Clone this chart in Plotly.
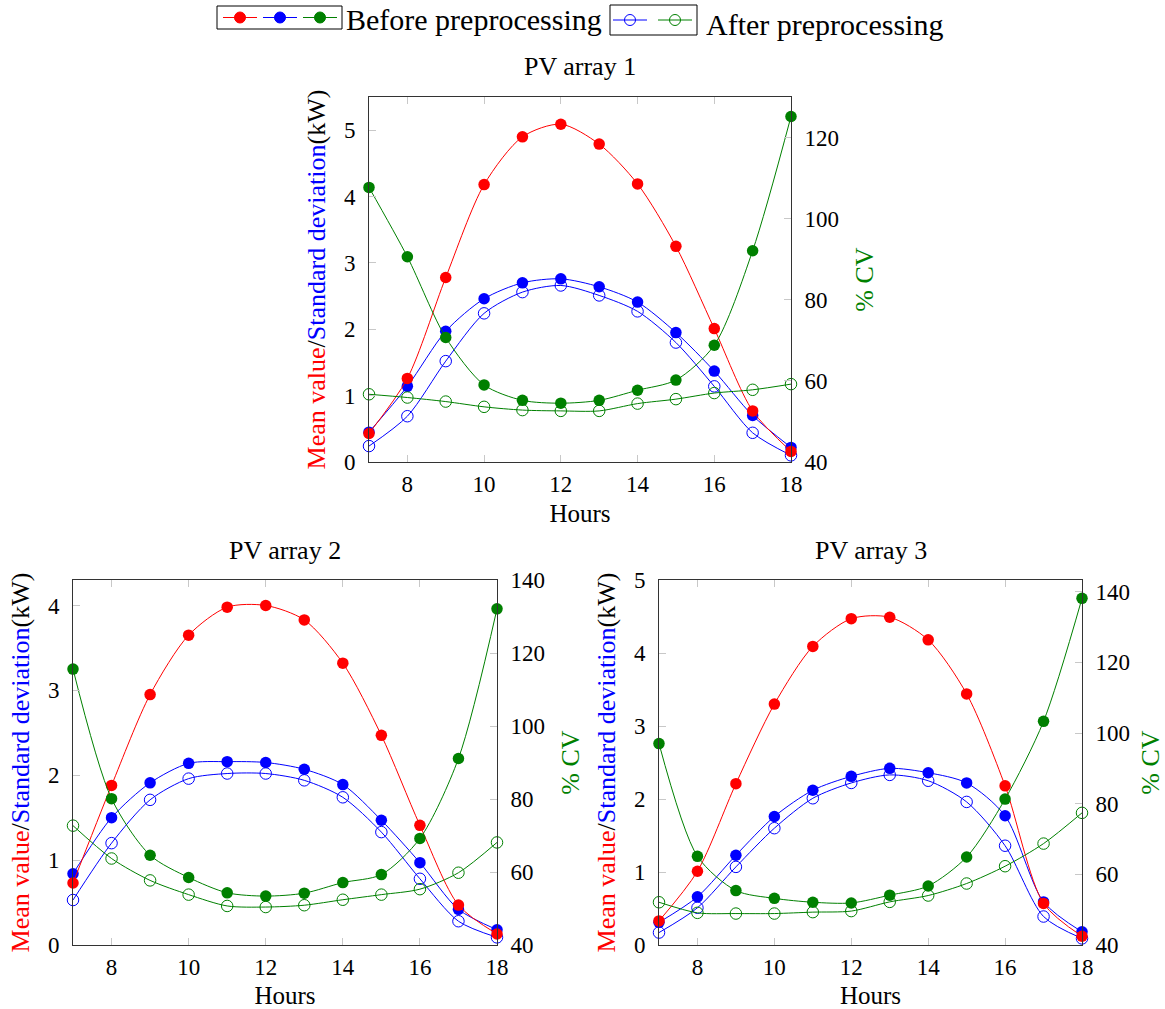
import plotly.graph_objects as go

# ---------------- data ----------------
hours = [7, 8, 9, 10, 11, 12, 13, 14, 15, 16, 17, 18]
x_ticks = [8, 10, 12, 14, 16, 18]

pv1_mean_before = [0.43, 1.26, 2.78, 4.18, 4.90, 5.09, 4.79, 4.19, 3.25, 2.01, 0.77, 0.16]
pv1_std_before = [0.45, 1.14, 1.97, 2.46, 2.70, 2.76, 2.64, 2.41, 1.95, 1.37, 0.70, 0.22]
pv1_std_after = [0.24, 0.69, 1.52, 2.24, 2.56, 2.66, 2.51, 2.27, 1.80, 1.14, 0.44, 0.10]
pv1_cv_before = [107.7, 90.6, 70.7, 59.0, 55.2, 54.5, 55.2, 57.7, 60.2, 68.8, 92.1, 125.2]
pv1_cv_after = [56.7, 55.9, 54.9, 53.6, 52.8, 52.6, 52.6, 54.4, 55.5, 57.0, 57.8, 59.2]

pv2_mean_before = [0.73, 1.88, 2.95, 3.65, 3.98, 4.00, 3.83, 3.32, 2.47, 1.41, 0.47, 0.13]
pv2_std_before = [0.84, 1.50, 1.91, 2.14, 2.16, 2.15, 2.07, 1.89, 1.47, 0.97, 0.42, 0.18]
pv2_std_after = [0.53, 1.20, 1.71, 1.96, 2.02, 2.02, 1.94, 1.74, 1.33, 0.78, 0.28, 0.09]
pv2_cv_before = [115.6, 80.1, 64.6, 58.5, 54.3, 53.4, 54.2, 57.1, 59.3, 69.2, 91.1, 132.1]
pv2_cv_after = [72.7, 63.7, 57.7, 53.8, 50.7, 50.4, 50.9, 52.4, 53.8, 55.3, 59.8, 68.1]

pv3_mean_before = [0.33, 1.01, 2.21, 3.30, 4.09, 4.47, 4.49, 4.18, 3.44, 2.18, 0.57, 0.12]
pv3_std_before = [0.31, 0.66, 1.23, 1.76, 2.12, 2.31, 2.42, 2.36, 2.22, 1.77, 0.59, 0.18]
pv3_std_after = [0.17, 0.51, 1.07, 1.60, 2.01, 2.22, 2.33, 2.25, 1.96, 1.36, 0.39, 0.09]
pv3_cv_before = [97.0, 65.1, 55.4, 53.2, 52.1, 51.9, 54.1, 56.7, 64.9, 81.3, 103.3, 138.1]
pv3_cv_after = [52.1, 49.1, 48.9, 48.9, 49.3, 49.6, 52.2, 54.0, 57.4, 62.3, 68.7, 77.4]

titles = ["PV array 1", "PV array 2", "PV array 3"]
legend_labels = ["Before preprocessing", "After preprocessing"]
x_title = "Hours"
y_left_title = ("<span style='color:#ff0000'>Mean value</span>/"
                "<span style='color:#0000ff'>Standard deviation</span>(kW)")
y_right_title = "% CV"

# ---------------- style ----------------
W, H = 1165, 1009
FONT = "Liberation Serif"
RED, BLUE, GREEN = "#ff0000", "#0000ff", "#008000"
FRAME = "#333333"
TICKC = "#c8c8c8"


def px(x):
    return x / W


def py(y):
    return 1 - y / H


panels = [
    dict(box=(369, 791, 97, 462), yl=[0, 5.5], yr=[40, 130],
         data=(pv1_mean_before, pv1_std_before, pv1_std_after, pv1_cv_before, pv1_cv_after)),
    dict(box=(73, 497, 580, 945), yl=[0, 4.3], yr=[40, 140],
         data=(pv2_mean_before, pv2_std_before, pv2_std_after, pv2_cv_before, pv2_cv_after)),
    dict(box=(659, 1082, 580, 945), yl=[0, 5.0], yr=[40, 143.3],
         data=(pv3_mean_before, pv3_std_before, pv3_std_after, pv3_cv_before, pv3_cv_after)),
]

fig = go.Figure()
layout = dict(
    width=W, height=H,
    margin=dict(l=0, r=0, t=0, b=0, pad=0, autoexpand=False),
    paper_bgcolor="white", plot_bgcolor="white",
    font=dict(family=FONT, size=23, color="black"),
    showlegend=False,
)

SPL = 0.8
annotations = []

for i, p in enumerate(panels):
    l, r, t, b = p["box"]
    xn = "" if i == 0 else str(i + 1)
    yl_n = str(2 * i + 1) if i > 0 else ""
    yr_n = str(2 * i + 2)
    xa, yla, yra = "x" + xn, "y" + yl_n, "y" + yr_n
    mean_b, std_b, std_a, cv_b, cv_a = p["data"]

    common_axis = dict(showgrid=False, zeroline=False, showline=True, linecolor=FRAME,
                       linewidth=1, ticks="inside", ticklen=7, tickcolor=TICKC,
                       automargin=False,
                       tickfont=dict(size=23, family=FONT, color="black"))
    layout["xaxis" + xn] = dict(common_axis, domain=[px(l), px(r)], range=[7, 18],
                                tickvals=x_ticks, anchor=yla, mirror="ticks",
                                ticklabelstandoff=1,
                                title=dict(text=x_title, font=dict(size=25), standoff=8))
    layout["yaxis" + yl_n] = dict(common_axis, domain=[py(b), py(t)], range=p["yl"],
                                  dtick=1, anchor=xa, side="left", ticklabelstandoff=8,
                                  title=dict(text=y_left_title, font=dict(size=26), standoff=10))
    layout["yaxis" + yr_n] = dict(common_axis, domain=[py(b), py(t)], range=p["yr"],
                                  dtick=20, tick0=40, anchor=xa, side="right", overlaying=yla,
                                  ticklabelstandoff=8,
                                  title=dict(text=y_right_title, font=dict(size=26, color=GREEN),
                                             standoff=16))

    fig.add_trace(go.Scatter(x=hours, y=std_a, xaxis=xa, yaxis=yla, mode="lines+markers",
                             line=dict(color=BLUE, width=1, shape="spline", smoothing=SPL),
                             marker=dict(symbol="circle-open", size=11.5, color=BLUE,
                                         line=dict(width=1, color=BLUE)),
                             cliponaxis=False, name=legend_labels[1]))
    fig.add_trace(go.Scatter(x=hours, y=std_b, xaxis=xa, yaxis=yla, mode="lines+markers",
                             line=dict(color=BLUE, width=1, shape="spline", smoothing=SPL),
                             marker=dict(symbol="circle", size=11.5, color=BLUE),
                             cliponaxis=False, name=legend_labels[0]))
    fig.add_trace(go.Scatter(x=hours, y=mean_b, xaxis=xa, yaxis=yla, mode="lines+markers",
                             line=dict(color=RED, width=1, shape="spline", smoothing=SPL),
                             marker=dict(symbol="circle", size=11.5, color=RED),
                             cliponaxis=False, name=legend_labels[0]))
    fig.add_trace(go.Scatter(x=hours, y=cv_a, xaxis=xa, yaxis=yra, mode="lines+markers",
                             line=dict(color=GREEN, width=1, shape="spline", smoothing=SPL),
                             marker=dict(symbol="circle-open", size=11.5, color=GREEN,
                                         line=dict(width=1, color=GREEN)),
                             cliponaxis=False, name=legend_labels[1]))
    fig.add_trace(go.Scatter(x=hours, y=cv_b, xaxis=xa, yaxis=yra, mode="lines+markers",
                             line=dict(color=GREEN, width=1, shape="spline", smoothing=SPL),
                             marker=dict(symbol="circle", size=11.5, color=GREEN),
                             cliponaxis=False, name=legend_labels[0]))

    annotations.append(dict(text=titles[i], x=px((l + r) / 2), y=py(t - 30), xref="paper",
                            yref="paper", showarrow=False, xanchor="center", yanchor="middle",
                            font=dict(size=26, family=FONT, color="black")))

# ---------------- custom legend (two framed groups) ----------------
shapes = []


def legend_box(x0, x1, y0, y1):
    shapes.append(dict(type="rect", xref="paper", yref="paper", x0=px(x0), x1=px(x1),
                       y0=py(y1), y1=py(y0), line=dict(color="black", width=1),
                       fillcolor="rgba(0,0,0,0)"))


def legend_swatch(xc, yc, color, filled):
    shapes.append(dict(type="line", xref="paper", yref="paper", x0=px(xc - 17), x1=px(xc + 17),
                       y0=py(yc), y1=py(yc), line=dict(color=color, width=1)))
    shapes.append(dict(type="circle", xref="paper", yref="paper", xsizemode="pixel",
                       ysizemode="pixel", xanchor=px(xc), yanchor=py(yc), x0=-5.5, x1=5.5,
                       y0=-5.5, y1=5.5, line=dict(color=color, width=1),
                       fillcolor=color if filled else "rgba(0,0,0,0)"))


legend_box(217, 342, 6, 29)
for xc, c in zip([240, 280, 320], [RED, BLUE, GREEN]):
    legend_swatch(xc, 17.5, c, True)
annotations.append(dict(text=legend_labels[0], x=px(344), y=py(20), xref="paper", yref="paper",
                        showarrow=False, xanchor="left", yanchor="middle",
                        font=dict(size=30, family=FONT, color="black")))

legend_box(610, 697, 5, 35)
for xc, c in zip([630, 675], [BLUE, GREEN]):
    legend_swatch(xc, 20, c, False)
annotations.append(dict(text=legend_labels[1], x=px(704), y=py(24), xref="paper", yref="paper",
                        showarrow=False, xanchor="left", yanchor="middle",
                        font=dict(size=30, family=FONT, color="black")))

layout["annotations"] = annotations
layout["shapes"] = shapes
fig.update_layout(**layout)
fig.write_html("out.html")
